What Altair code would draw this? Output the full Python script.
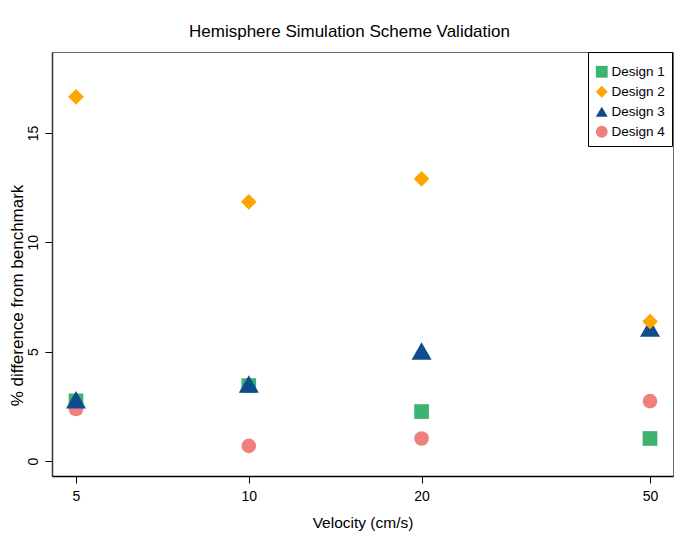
import altair as alt
import pandas as pd

velocity = [5, 10, 20, 50]
designs = ["Design 1", "Design 2", "Design 3", "Design 4"]
design1 = [2.75, 3.45, 2.26, 1.03]
design2 = [16.65, 11.85, 12.9, 6.38]
design3 = [2.80, 3.52, 5.03, 6.08]
design4 = [2.38, 0.69, 1.03, 2.74]

colors = ["#3CB371", "#FFA500", "#0F4C8C", "#F08080"]
shapes = ["square", "diamond", "triangle-up", "circle"]
marker_sizes = {"Design 1": 215, "Design 2": 245, "Design 3": 400, "Design 4": 215}

series = {"Design 1": design1, "Design 2": design2, "Design 3": design3, "Design 4": design4}
rows = []
for name in designs:
    for v, val in zip(velocity, series[name]):
        rows.append({"velocity": v, "pct": val, "design": name})
df = pd.DataFrame(rows)

FONT = "Liberation Sans"

x_enc = alt.X("velocity:Q", scale=alt.Scale(type="log", domain=[4.541, 54.83], nice=False, zero=False),
              axis=alt.Axis(values=velocity, title="Velocity (cm/s)", grid=False, tickSize=7,
                            labelFontSize=14, labelPadding=6, titleFontSize=15.5,
                            titleFontWeight="normal", titleY=46, titleBaseline="middle",
                            labelFlush=False, domainColor="#000", tickColor="#000"))
y_enc = alt.Y("pct:Q", scale=alt.Scale(domain=[-0.686, 18.70], nice=False, zero=False),
              axis=alt.Axis(values=[0, 5, 10, 15], title="% difference from benchmark", grid=False,
                            tickSize=7, labelFontSize=14, labelAngle=270, labelAlign="center",
                            labelBaseline="bottom", labelPadding=5, titleFontSize=17,
                            titleFontWeight="normal", titleAngle=270, titleX=-35, titleY=243,
                            titleAlign="center", titleBaseline="middle", labelFlush=False,
                            domainColor="#333", tickColor="#000"))
color_enc = alt.Color("design:N", scale=alt.Scale(domain=designs, range=colors),
                      legend=alt.Legend(title=" ", titleFontSize=6, titlePadding=0,
                                        orient="none", legendX=536, legendY=0,
                                        strokeColor="#000", fillColor="#fff", padding=7,
                                        labelFontSize=13.5, symbolSize=140, rowPadding=5,
                                        labelOffset=3, symbolStrokeWidth=0))
shape_enc = alt.Shape("design:N", scale=alt.Scale(domain=designs, range=shapes))

base = alt.Chart(df)
draw_order = ["Design 1", "Design 4", "Design 3", "Design 2"]
layers = []
for name in draw_order:
    layers.append(
        base.transform_filter(alt.datum.design == name)
        .mark_point(filled=True, opacity=1, strokeWidth=0, size=marker_sizes[name])
        .encode(x=x_enc, y=y_enc, color=color_enc, shape=shape_enc)
    )

chart = alt.layer(*layers).properties(
    width=621,
    height=424,
    autosize=alt.AutoSizeParams(type="none"),
    padding={"left": 44, "top": 44, "right": 19, "bottom": 55},
    title=alt.TitleParams("Hemisphere Simulation Scheme Validation", fontSize=17,
                          fontWeight="normal", font=FONT, offset=14, baseline="alphabetic",
                          dx=-13, dy=16, color="#000"),
).configure(font=FONT).configure_view(
    stroke="#666", strokeWidth=1
).configure_axis(
    labelFont=FONT, titleFont=FONT, labelColor="#000", titleColor="#000", domainWidth=1.5
).configure_legend(labelFont=FONT, labelColor="#000")

chart.save("out.html", embed_options={"renderer": "svg", "actions": False})
